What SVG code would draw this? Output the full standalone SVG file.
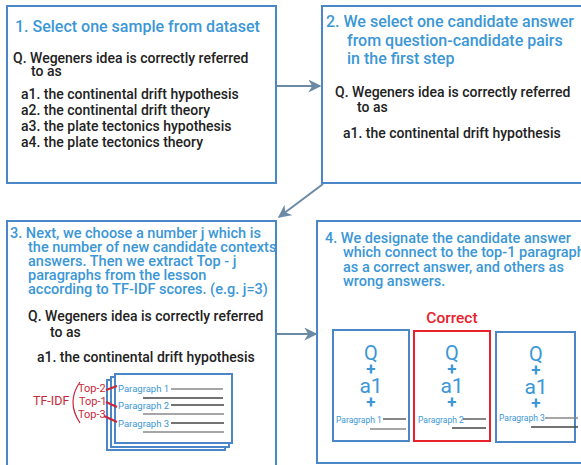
<svg xmlns="http://www.w3.org/2000/svg" width="581" height="465" viewBox="0 0 581 465">
<defs>
<style>
.box{fill:#fff;stroke:#4a86c8;stroke-width:2}
.ttl{font-family:Roboto,"Liberation Sans",sans-serif;font-weight:500;fill:#3b97d6}
.txt{font-family:Roboto,"Liberation Sans",sans-serif;font-weight:500;fill:#222;font-size:14px}
.red{font-family:Roboto,"Liberation Sans",sans-serif;fill:#c9283a}
.par{font-family:Roboto,"Liberation Sans",sans-serif;fill:#3b97d6}
.ln{stroke:#444;stroke-width:1.3}
.lg{stroke:#888;stroke-width:1.5}
.conn{stroke:#6b8aa6;stroke-width:2;fill:none}
.big{font-family:Roboto,"Liberation Sans",sans-serif;fill:#3b97d6;text-anchor:middle}
</style>
<marker id="ah" viewBox="0 0 10 10" refX="9" refY="5" markerWidth="6.5" markerHeight="6.5" orient="auto" markerUnits="strokeWidth">
<path d="M0,0 L10,5 L0,10 L3,5 z" fill="#6b8aa6"/>
</marker>
</defs>

<g id="connectors">
<line class="conn" x1="277" y1="86" x2="320" y2="86" marker-end="url(#ah)"/>
<line class="conn" x1="323" y1="184" x2="279" y2="217" marker-end="url(#ah)"/>
<line class="conn" x1="277" y1="334" x2="316" y2="334" marker-end="url(#ah)"/>
</g>

<g id="step1">
<rect class="box" x="7" y="6" width="269" height="177"/>
<text class="ttl" x="15" y="32" font-size="16">1. Select one sample from dataset</text>
<text class="txt" x="13" y="63">Q. Wegeners idea is correctly referred</text>
<text class="txt" x="31" y="76">to as</text>
<text class="txt" x="21" y="99">a1. the continental drift hypothesis</text>
<text class="txt" x="21" y="115">a2. the continental drift theory</text>
<text class="txt" x="21" y="131">a3. the plate tectonics hypothesis</text>
<text class="txt" x="21" y="147">a4. the plate tectonics theory</text>
</g>

<g id="step2">
<rect class="box" x="322" y="6" width="270" height="177"/>
<text class="ttl" x="326" y="27" font-size="16">2. We select one candidate answer</text>
<text class="ttl" x="347" y="46" font-size="16">from question-candidate pairs</text>
<text class="ttl" x="347" y="64" font-size="16">in the first step</text>
<text class="txt" x="335" y="97">Q. Wegeners idea is correctly referred</text>
<text class="txt" x="357" y="112">to as</text>
<text class="txt" x="343" y="138">a1. the continental drift hypothesis</text>
</g>

<g id="step3">
<rect class="box" x="7" y="221" width="269" height="260"/>
<text class="ttl" x="10" y="238" font-size="14.5">3. Next, we choose a number j which is</text>
<text class="ttl" x="28" y="252" font-size="14.5">the number of new candidate contexts</text>
<text class="ttl" x="28" y="266" font-size="14.5">answers. Then we extract Top - j</text>
<text class="ttl" x="28" y="280" font-size="14.5">paragraphs from the lesson</text>
<text class="ttl" x="28" y="294" font-size="14.5">according to TF-IDF scores. (e.g. j=3)</text>
<text class="txt" x="28" y="321">Q. Wegeners idea is correctly referred</text>
<text class="txt" x="50" y="337">to as</text>
<text class="txt" x="37" y="362">a1. the continental drift hypothesis</text>
<rect class="box" x="107" y="380" width="118" height="70"/>
<rect class="box" x="111" y="377" width="118" height="70"/>
<rect class="box" x="115" y="374" width="117" height="69"/>
<text class="par" x="118" y="392" font-size="9.5">Paragraph 1</text>
<line class="lg" x1="171" y1="389" x2="223" y2="389"/>
<line class="ln" x1="143" y1="398" x2="223" y2="398"/>
<text class="par" x="118" y="409" font-size="9.5">Paragraph 2</text>
<line class="ln" x1="171" y1="405" x2="224" y2="405"/>
<line class="lg" x1="143" y1="414" x2="224" y2="414"/>
<text class="par" x="118" y="427" font-size="9.5">Paragraph 3</text>
<line class="ln" x1="171" y1="423" x2="224" y2="423"/>
<line class="lg" x1="143" y1="432" x2="224" y2="432"/>
<text class="red" x="33" y="405" font-size="12.5">TF-IDF</text>
<path d="M80,382 Q66,402 80,423" fill="none" stroke="#c9283a" stroke-width="1.2"/>
<text class="red" x="78" y="392" font-size="11">Top-2</text>
<text class="red" x="79" y="405" font-size="11">Top-1</text>
<text class="red" x="78" y="418" font-size="11">Top-3</text>
<line x1="106" y1="390" x2="117" y2="386" stroke="#c9283a" stroke-width="2"/>
<line x1="106" y1="402" x2="117" y2="407" stroke="#c9283a" stroke-width="2"/>
<line x1="104" y1="416" x2="117" y2="422" stroke="#c9283a" stroke-width="2"/>
</g>

<g id="step4">
<rect class="box" x="317" y="221" width="280" height="242"/>
<text class="ttl" x="325" y="243" font-size="14.5">4. We designate the candidate answer</text>
<text class="ttl" x="343" y="257" font-size="14.5">which connect to the top-1 paragraph</text>
<text class="ttl" x="343" y="272" font-size="14.5">as a correct answer, and others as</text>
<text class="ttl" x="343" y="286" font-size="14.5">wrong answers.</text>
<text x="452" y="323" font-size="15.5" font-family="Roboto,'Liberation Sans',sans-serif" font-weight="500" fill="#e8212b" text-anchor="middle">Correct</text>
</g>

<g id="cand1">
<rect class="box" x="333" y="330" width="76" height="111"/>
<text class="big" x="371" y="360" font-size="20">Q</text>
<text class="big" x="371" y="375" font-size="17" font-weight="bold">+</text>
<text class="big" x="371" y="393" font-size="21">a1</text>
<text class="big" x="371" y="408" font-size="17" font-weight="bold">+</text>
<text class="par" x="336" y="423" font-size="8.5">Paragraph 1</text>
<line class="ln" x1="383" y1="419" x2="406" y2="419"/>
<line class="lg" x1="370" y1="429" x2="406" y2="429" stroke-width="2"/>
</g>

<g id="cand2">
<rect x="414" y="331" width="76" height="110" fill="#fff" stroke="#e8212b" stroke-width="2"/>
<text class="big" x="452" y="360" font-size="20">Q</text>
<text class="big" x="452" y="375" font-size="17" font-weight="bold">+</text>
<text class="big" x="452" y="393" font-size="21">a1</text>
<text class="big" x="452" y="408" font-size="17" font-weight="bold">+</text>
<text class="par" x="418" y="423" font-size="8.5">Paragraph 2</text>
<line class="ln" x1="463" y1="419" x2="486" y2="419"/>
<line class="ln" x1="452" y1="428" x2="486" y2="428"/>
</g>

<g id="cand3">
<rect class="box" x="496" y="332" width="79" height="110"/>
<text class="big" x="536" y="361" font-size="20">Q</text>
<text class="big" x="536" y="376" font-size="17" font-weight="bold">+</text>
<text class="big" x="536" y="394" font-size="21">a1</text>
<text class="big" x="536" y="409" font-size="17" font-weight="bold">+</text>
<text class="par" x="499" y="421" font-size="8.5">Paragraph 3</text>
<line class="lg" x1="545" y1="418" x2="578" y2="418"/>
<line class="ln" x1="531" y1="427" x2="578" y2="427"/>
</g>
</svg>
